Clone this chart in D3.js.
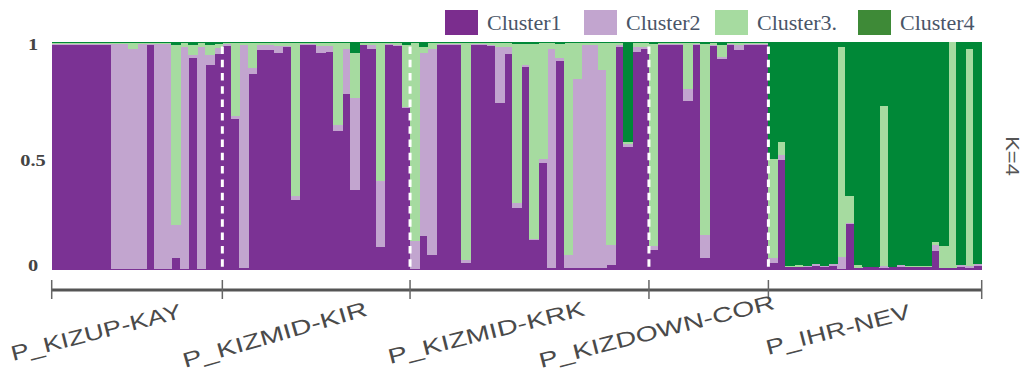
<!DOCTYPE html>
<html><head><meta charset="utf-8">
<script src="https://cdn.jsdelivr.net/npm/d3@7"></script>
<style>body{margin:0;background:#fff}svg{display:block}</style>
</head><body><svg id="c" width="1034" height="372"></svg>
<script>
// ---------------- DATA ----------------
const populations = ["P_KIZUP-KAY","P_KIZMID-KIR","P_KIZMID-KRK","P_KIZDOWN-COR","P_IHR-NEV"];
const popSizes = [20, 22, 28, 14, 25];
const clusterNames = ["Cluster1","Cluster2","Cluster3.","Cluster4"];
const kLabel = "K=4";
const yTicks = [0, 0.5, 1];
const yTickLabels = ["0", "0.5", "1"];

const cluster1 = [
 .985,.985,.985,.985,.985,.985,.985,.005,.005,.005,.005,.985,.005,.005,.054,.005,.930,.003,.900,.947,
 .980,.660,.007,.860,.965,.965,.950,.975,.307,.985,.985,.950,.957,.610,.770,.350,.985,.970,.100,.985,.980,.710,
 .005,.150,.066,.985,.985,.985,.030,.985,.985,.980,.730,.946,.273,.890,.130,.470,.007,.917,.007,.007,.007,.007,.007,.022,.976,.540,.957,.970,
 .088,.985,.985,.985,.740,.985,.054,.980,.925,.985,.965,.985,.985,.985,
 .032,.480,.012,.015,.012,.018,.012,.018,.003,.200,.010,.012,.012,.007,.012,.015,.012,.012,.012,.083,.007,.007,.012,.007,.018
];
const cluster2 = [
 .003,.003,.003,.003,.003,.003,.003,.983,.983,.965,.983,.003,.983,.983,.143,.970,.012,.975,.040,.025,
 .008,.015,.980,.026,.022,.022,.030,.006,.018,.003,.003,.030,.022,.025,.200,.405,.002,.017,.290,.003,.005,.006,
 .120,.800,.900,.003,.003,.003,.015,.003,.003,.007,.245,.030,.022,.010,.007,.016,.962,.010,.060,.830,.980,.980,.870,.088,.010,.012,.020,.008,
 .015,.003,.003,.003,.053,.003,.100,.007,.007,.003,.020,.003,.003,.003,
 .019,.025,0,0,.005,.007,.004,.007,.056,.006,0,.003,0,.010,0,.007,0,0,0,.026,0,0,.010,.010,.007
];
const cluster3 = [
 .006,.006,.006,.006,.006,.006,.006,.006,.006,.024,.006,.006,.006,.006,.788,.019,.044,.016,.045,.016,
 .006,.319,.007,.108,.007,.007,.014,.013,.669,.006,.006,.014,.015,.359,.024,.197,.007,.007,.604,.006,.009,.269,
 .869,.027,.028,.006,.006,.006,.949,.006,.006,.007,.019,.018,.695,.090,.851,.508,.025,.061,.927,.157,.007,.007,.117,.884,.008,.008,.017,.016,
 .885,.006,.006,.006,.200,.006,.834,.007,.055,.006,.009,.006,.006,.006,
 .436,.054,.006,.007,0,0,0,0,.917,.117,.012,0,0,.700,0,0,.004,.004,.004,.015,.098,.993,0,.952,0
];
const cluster4 = [
 .006,.006,.006,.006,.006,.006,.006,.006,.006,.006,.006,.006,.006,.006,.015,.006,.014,.006,.015,.012,
 .006,.006,.006,.006,.006,.006,.006,.006,.006,.006,.006,.006,.006,.006,.006,.048,.006,.006,.006,.006,.006,.015,
 .006,.023,.006,.006,.006,.006,.006,.006,.006,.006,.006,.006,.010,.010,.012,.006,.006,.012,.006,.006,.006,.006,.006,.006,.006,.440,.006,.006,
 .012,.006,.006,.006,.007,.006,.012,.006,.013,.006,.006,.006,.006,.006,
 .513,.441,.982,.978,.983,.975,.984,.975,.024,.677,.978,.985,.988,.283,.988,.978,.984,.984,.984,.876,.895,0,.978,.031,.975
];

// ---------------- STYLE / LAYOUT ----------------
const barColors = ["#7b3294","#c2a5cf","#a6dba0","#008837"];
const legendColors = ["#7b2d8e","#c2a5cf","#a6dba0","#3e8a37"];
const legendSwatchX = [445, 584, 715, 858];
const labelLayout = [ // baseline start x, y, angle, length
  [13, 361, 14.3, 175],
  [185, 368, 16.0, 191],
  [390, 364, 14.0, 202],
  [541, 368, 14.2, 242],
  [768, 355, 14.4, 148]
];

const svg = d3.select("#c");
const X0 = 51.7, X1 = 981.7, YT = 41.7, YB = 270;
const n = cluster1.length;
const keys = ["c1","c2","c3","c4"];
const rows = d3.range(n).map(i => ({i, c1: cluster1[i], c2: cluster2[i], c3: cluster3[i], c4: cluster4[i]}));
const series = d3.stack().keys(keys).offset(d3.stackOffsetExpand)(rows);

const x = d3.scaleBand().domain(d3.range(n)).range([X0, X1]).padding(0);
const y = d3.scaleLinear().domain([0, 1]).range([YB, YT]);
const xi = d3.scaleLinear().domain([0, n]).range([X0, X1]);

// bars
svg.append("g").attr("shape-rendering", "crispEdges")
  .selectAll("g").data(series).join("g")
  .attr("fill", (d, k) => barColors[k])
  .selectAll("rect").data(d => d).join("rect")
  .attr("x", d => x(d.data.i))
  .attr("width", d => x.bandwidth() + (d.data.i < n - 1 ? 1 : 0))
  .attr("y", d => y(d[1]))
  .attr("height", d => Math.max(0, y(d[0]) - y(d[1])));

// group boundaries
const starts = [0];
popSizes.forEach((s, k) => starts.push(starts[k] + s));

// dashed separators
svg.append("g").selectAll("line").data(starts.slice(1, -1)).join("line")
  .attr("x1", d => xi(d)).attr("x2", d => xi(d))
  .attr("y1", YT).attr("y2", YB)
  .attr("stroke", "#fff").attr("stroke-width", 3)
  .attr("stroke-dasharray", "7.5,5.8").attr("stroke-dashoffset", 8.6);

// bottom axis
const ax = svg.append("g");
ax.append("line").attr("x1", xi(0)).attr("x2", xi(n)).attr("y1", 290).attr("y2", 290)
  .attr("stroke", "#555").attr("stroke-width", 3);
ax.selectAll("line.t").data(starts).join("line").attr("class", "t")
  .attr("x1", d => xi(d)).attr("x2", d => xi(d)).attr("y1", 280).attr("y2", 299)
  .attr("stroke", "#666").attr("stroke-width", 1.5);

// group labels
svg.append("g").selectAll("text").data(populations).join("text")
  .attr("transform", (d, k) => `translate(${labelLayout[k][0]},${labelLayout[k][1]}) rotate(${-labelLayout[k][2]})`)
  .attr("textLength", (d, k) => labelLayout[k][3])
  .attr("lengthAdjust", "spacingAndGlyphs")
  .attr("font-family", "'Liberation Sans', Arial, sans-serif")
  .attr("font-size", 21).attr("fill", "#4a4a4a")
  .text(d => d);

// y tick labels
const nudge = v => v === 0 ? -4.7 : (v === 1 ? 2.5 : 4.5);
svg.append("g").selectAll("text").data(yTicks).join("text")
  .attr("transform", v => `translate(33,${y(v) + nudge(v)}) scale(1.2,1)`)
  .attr("text-anchor", "middle").attr("dominant-baseline", "central")
  .attr("font-family", "'Liberation Serif', 'Times New Roman', serif")
  .attr("font-weight", "bold").attr("font-size", 17).attr("fill", "#444")
  .text((v, k) => yTickLabels[k]);

// legend
const lg = svg.append("g");
clusterNames.forEach((name, k) => {
  lg.append("rect").attr("x", legendSwatchX[k]).attr("y", 10).attr("width", 33).attr("height", 25)
    .attr("fill", legendColors[k]);
  lg.append("text").attr("x", legendSwatchX[k] + 42).attr("y", 22.5)
    .attr("dominant-baseline", "central")
    .attr("font-family", "'Liberation Serif', 'Times New Roman', serif")
    .attr("font-size", 22).attr("fill", "#4a5568").text(name);
});

// K label
svg.append("text")
  .attr("transform", "translate(1012,156) scale(0.8,1) rotate(90)")
  .attr("text-anchor", "middle").attr("dominant-baseline", "central")
  .attr("font-family", "'Liberation Sans', Arial, sans-serif")
  .attr("font-size", 22).attr("fill", "#555").text(kLabel);
</script>
</body></html>
